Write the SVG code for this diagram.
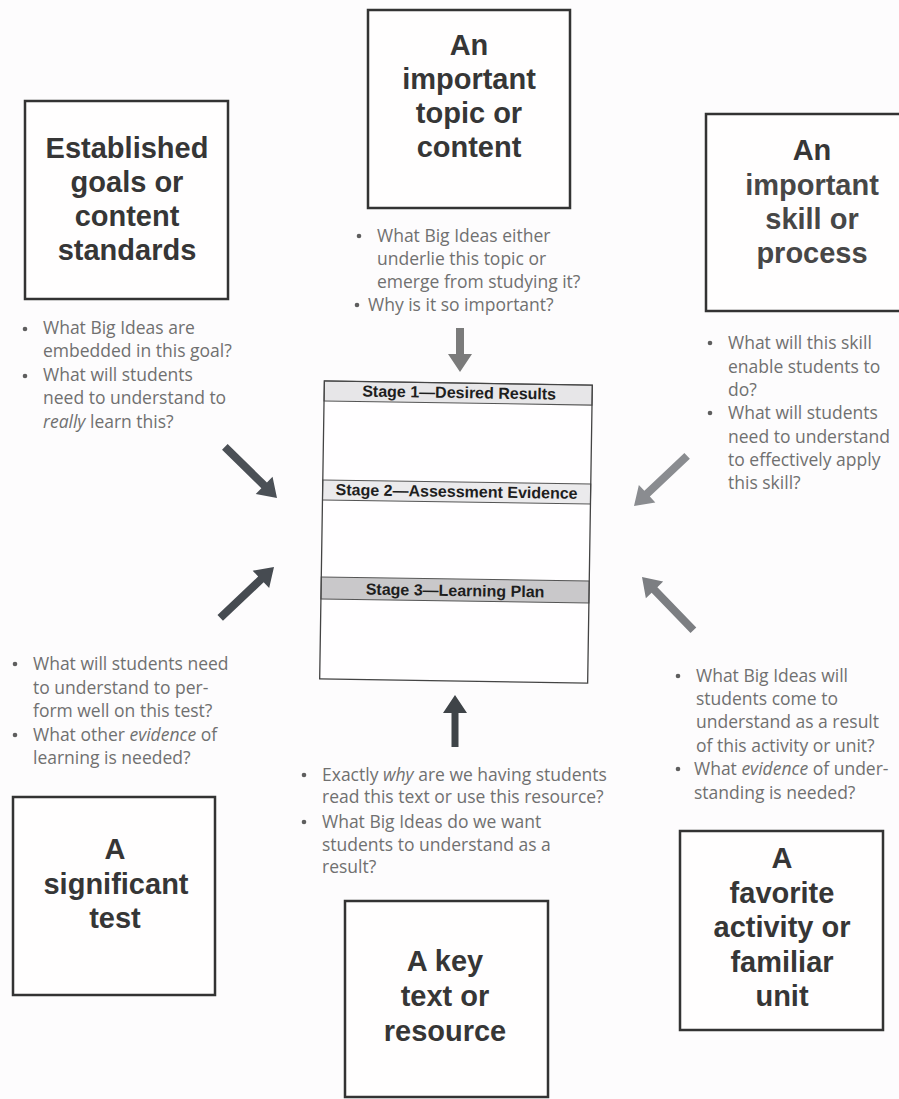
<svg xmlns="http://www.w3.org/2000/svg" width="899" height="1099" viewBox="0 0 899 1099">
  <style>
    .box { fill: #fffefe; stroke: #333; stroke-width: 2.5; }
    .head { font-family: "Liberation Sans", Arial, sans-serif; font-weight: bold; font-size: 29px; text-anchor: middle; fill: #363636; }
    .note { font-family: "Open Sans", "Liberation Sans", sans-serif; font-size: 17.5px; fill: #707070; }
    .dot { fill: #5e5e5e; }
    .stage { font-family: "Liberation Sans", Arial, sans-serif; font-weight: bold; font-size: 16px; text-anchor: middle; fill: #1e1e1e; }
    .band { stroke: #555; stroke-width: 1; }
    .frame { fill: none; stroke: #444; stroke-width: 1.3; }
  </style>

  <rect width="899" height="1099" fill="#fdfcfd"/>

  <!-- Central template: three stages -->
  <g id="template" transform="rotate(0.9 456 532)">
    <rect x="322" y="383" width="268" height="298" fill="#fffeff"/>
    <rect class="band" x="322" y="383" width="268" height="20" fill="#e7e6e8"/>
    <rect class="band" x="322" y="482" width="268" height="20" fill="#ebeaec"/>
    <rect class="band" x="322" y="579" width="268" height="22" fill="#c9c8ca"/>
    <rect class="frame" x="322" y="383" width="268" height="298"/>
    <text class="stage" x="457" y="398">Stage 1—Desired Results</text>
    <text class="stage" x="456" y="497">Stage 2—Assessment Evidence</text>
    <text class="stage" x="456" y="596">Stage 3—Learning Plan</text>
  </g>

  <!-- Entry point: standards -->
  <g id="standards">
    <rect class="box" x="25" y="101" width="203" height="198"/>
    <text class="head" x="127" y="158">Established</text>
    <text class="head" x="127" y="192">goals or</text>
    <text class="head" x="127" y="226">content</text>
    <text class="head" x="127" y="260">standards</text>
    <circle class="dot" cx="25" cy="329" r="2.3"/>
    <circle class="dot" cx="25" cy="376" r="2.3"/>
    <text class="note" x="43" y="334">What Big Ideas are</text>
    <text class="note" x="43" y="357">embedded in this goal?</text>
    <text class="note" x="43" y="381">What will students</text>
    <text class="note" x="43" y="404">need to understand to</text>
    <text class="note" x="43" y="428"><tspan font-style="italic">really</tspan> learn this?</text>
  </g>

  <!-- Entry point: topic -->
  <g id="topic">
    <rect class="box" x="368" y="10" width="202" height="198"/>
    <text class="head" x="469" y="55">An</text>
    <text class="head" x="469" y="89">important</text>
    <text class="head" x="469" y="123">topic or</text>
    <text class="head" x="469" y="157">content</text>
    <circle class="dot" cx="359" cy="236" r="2.3"/>
    <circle class="dot" cx="357" cy="305" r="2.3"/>
    <text class="note" x="377" y="242">What Big Ideas either</text>
    <text class="note" x="377" y="265">underlie this topic or</text>
    <text class="note" x="377" y="288">emerge from studying it?</text>
    <text class="note" x="368" y="311">Why is it so important?</text>
  </g>

  <!-- Entry point: skill -->
  <g id="skill">
    <rect class="box" x="706" y="114" width="220" height="197"/>
    <text class="head" x="812" y="160" fill="#4a4a4a">An</text>
    <text class="head" x="812" y="195" style="fill:#474747">important</text>
    <text class="head" x="812" y="229" style="fill:#474747">skill or</text>
    <text class="head" x="812" y="263" style="fill:#474747">process</text>
    <circle class="dot" cx="710" cy="343" r="2.3"/>
    <circle class="dot" cx="710" cy="413" r="2.3"/>
    <text class="note" x="728" y="349">What will this skill</text>
    <text class="note" x="728" y="373">enable students to</text>
    <text class="note" x="728" y="396">do?</text>
    <text class="note" x="728" y="419">What will students</text>
    <text class="note" x="728" y="443">need to understand</text>
    <text class="note" x="728" y="466">to effectively apply</text>
    <text class="note" x="728" y="489">this skill?</text>
  </g>

  <!-- Entry point: test -->
  <g id="test">
    <rect class="box" x="13" y="797" width="202" height="198"/>
    <text class="head" x="115" y="859">A</text>
    <text class="head" x="116" y="894">significant</text>
    <text class="head" x="115" y="928">test</text>
    <circle class="dot" cx="15" cy="664" r="2.3"/>
    <circle class="dot" cx="15" cy="735" r="2.3"/>
    <text class="note" x="33" y="670">What will students need</text>
    <text class="note" x="33" y="694">to understand to per-</text>
    <text class="note" x="33" y="717">form well on this test?</text>
    <text class="note" x="33" y="741">What other <tspan font-style="italic">evidence</tspan> of</text>
    <text class="note" x="33" y="764">learning is needed?</text>
  </g>

  <!-- Entry point: resource -->
  <g id="resource">
    <rect class="box" x="345" y="901" width="203" height="196"/>
    <text class="head" x="445" y="971">A key</text>
    <text class="head" x="445" y="1006">text or</text>
    <text class="head" x="445" y="1041">resource</text>
    <circle class="dot" cx="304" cy="775" r="2.3"/>
    <circle class="dot" cx="304" cy="822" r="2.3"/>
    <text class="note" x="322" y="781">Exactly <tspan font-style="italic">why</tspan> are we having students</text>
    <text class="note" x="322" y="803">read this text or use this resource?</text>
    <text class="note" x="322" y="828">What Big Ideas do we want</text>
    <text class="note" x="322" y="851">students to understand as a</text>
    <text class="note" x="322" y="873">result?</text>
  </g>

  <!-- Entry point: activity -->
  <g id="activity">
    <rect class="box" x="680" y="831" width="203" height="199"/>
    <text class="head" x="782" y="868">A</text>
    <text class="head" x="782" y="903">favorite</text>
    <text class="head" x="782" y="937">activity or</text>
    <text class="head" x="782" y="972">familiar</text>
    <text class="head" x="782" y="1006">unit</text>
    <circle class="dot" cx="678" cy="676" r="2.3"/>
    <circle class="dot" cx="678" cy="769" r="2.3"/>
    <text class="note" x="696" y="682">What Big Ideas will</text>
    <text class="note" x="696" y="705">students come to</text>
    <text class="note" x="696" y="728">understand as a result</text>
    <text class="note" x="696" y="752">of this activity or unit?</text>
    <text class="note" x="694" y="775">What <tspan font-style="italic">evidence</tspan> of under-</text>
    <text class="note" x="694" y="799">standing is needed?</text>
  </g>

  <!-- Arrows pointing into the template (tip at origin, pointing along +x) -->
  <g id="connectors">
    <path fill="#7b7b7b" transform="translate(460 372) rotate(90)" d="M-44,-4 H-18 V-12 L0,0 L-18,12 V4 H-44 Z"/>
    <path fill="#3f4448" transform="translate(455 695) rotate(-90)" d="M-52,-3.5 H-18 V-12 L0,0 L-18,12 V3.5 H-52 Z"/>
    <path fill="#4b5056" transform="translate(277 498) rotate(44.4)" d="M-73,-4 H-18 V-12 L0,0 L-18,12 V4 H-73 Z"/>
    <path fill="#464b51" transform="translate(274 567) rotate(-43.4)" d="M-74,-4 H-18 V-12 L0,0 L-18,12 V4 H-74 Z"/>
    <path fill="#8a8c90" transform="translate(634 506) rotate(136.7)" d="M-73,-4 H-18 V-12 L0,0 L-18,12 V4 H-73 Z"/>
    <path fill="#7c7e82" transform="translate(642 577) rotate(-134)" d="M-74,-4 H-18 V-12 L0,0 L-18,12 V4 H-74 Z"/>
  </g>
</svg>
